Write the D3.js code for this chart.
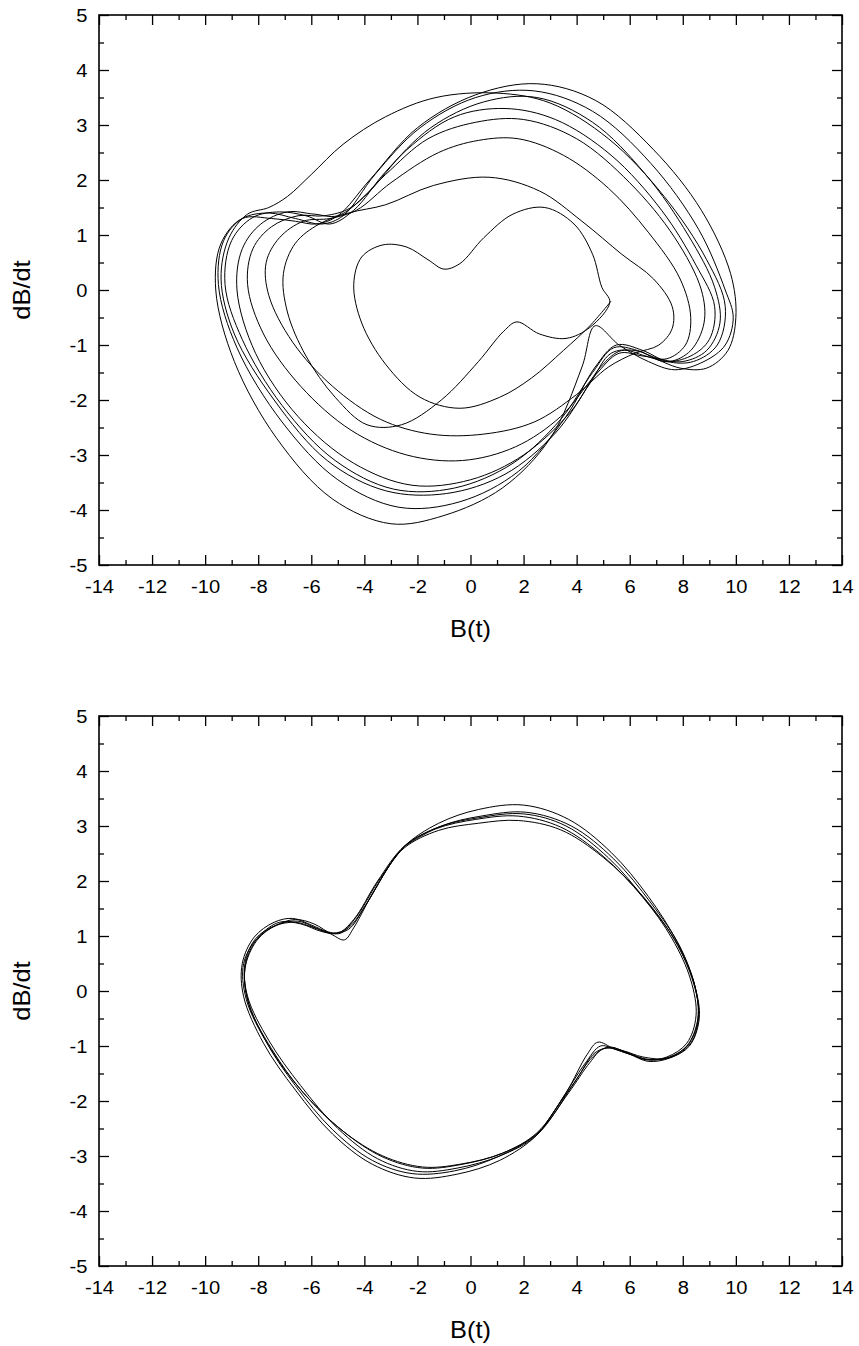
<!DOCTYPE html>
<html>
<head>
<meta charset="utf-8">
<script src="https://cdnjs.cloudflare.com/ajax/libs/d3/7.8.5/d3.min.js"></script>
<style>
	body { margin: 0; background: #fff; }
	svg text { font-family: "Liberation Sans", Arial, sans-serif; fill: #000; }
</style>
</head>
<body>
<div id="chart"></div>
<script>
// axis ticks
var xTicks = [-14, -12, -10, -8, -6, -4, -2, 0, 2, 4, 6, 8, 10, 12, 14];
var xMinorTicks = [-13, -11, -9, -7, -5, -3, -1, 1, 3, 5, 7, 9, 11, 13];
var yTicks = [-5, -4, -3, -2, -1, 0, 1, 2, 3, 4, 5];
var yMinorTicks = [-4.5, -3.5, -2.5, -1.5, -0.5, 0.5, 1.5, 2.5, 3.5, 4.5];

// top panel: transient trajectory, [B, dB/dt]
var topLoop1 = [[5.3,-0.2],[4.5,-0.65],[3.5,-1.1],[2.3,-1.6],[1.1,-1.95],[-0.4,-2.15],[-1.9,-1.95],[-3.2,-1.35],[-4.1,-0.6],[-4.4,0.1],[-4.1,0.6],[-3.3,0.82],[-2.4,0.78],[-1.6,0.55],[-1.0,0.38],[-0.4,0.48],[0.5,0.95],[1.6,1.38],[2.8,1.5],[3.9,1.2],[4.6,0.65],[4.95,0.05]];
var topLoop2 = [[5.25,-0.22],[4.5,-0.68],[3.6,-0.88],[2.6,-0.8],[1.75,-0.58],[1.25,-0.75],[0.3,-1.3],[-1.1,-2.0],[-2.6,-2.45],[-3.9,-2.45],[-5.1,-1.95],[-6.2,-1.2],[-6.9,-0.4],[-7.05,0.3],[-6.6,0.85],[-5.7,1.2],[-4.6,1.4],[-3.2,1.55],[-1.4,1.9],[0.7,2.05],[2.6,1.8],[4.2,1.25],[5.7,0.65],[6.9,0.2],[7.6,-0.3]];
var topLoop3 = [[7.6,-0.7],[7.1,-1.0],[6.2,-1.15],[5.2,-1.4],[4.0,-1.9],[2.4,-2.4],[0.5,-2.62],[-1.5,-2.62],[-3.4,-2.35],[-5.2,-1.75],[-6.7,-0.95],[-7.6,-0.1],[-7.7,0.5],[-7.2,0.95],[-6.3,1.25],[-5.3,1.3],[-4.3,1.45],[-3.0,1.95],[-1.2,2.5],[0.3,2.72],[1.8,2.75],[3.5,2.45],[5.2,1.85],[6.7,1.05],[7.9,0.2],[8.3,-0.5]];
var topLoop4 = [[8.1,-1.0],[7.4,-1.25],[6.5,-1.2],[5.6,-1.15],[4.7,-1.55],[3.4,-2.3],[1.7,-2.85],[-0.3,-3.1],[-2.4,-3.0],[-4.5,-2.55],[-6.4,-1.75],[-7.8,-0.8],[-8.4,0.1],[-8.2,0.75],[-7.5,1.15],[-6.5,1.35],[-5.5,1.35],[-4.5,1.5],[-3.2,2.1],[-1.6,2.75],[0.2,3.05],[2.0,3.1],[4.0,2.75],[6.0,1.95],[7.7,0.95],[8.7,0.0],[8.8,-0.6]];
var topLoop5 = [[8.3,-1.1],[7.5,-1.3],[6.6,-1.2],[5.7,-1.1],[4.9,-1.4],[3.8,-2.2],[2.0,-3.0],[0.0,-3.45],[-2.2,-3.55],[-4.4,-3.15],[-6.5,-2.3],[-8.1,-1.15],[-8.8,0.0],[-8.6,0.75],[-7.9,1.2],[-6.9,1.42],[-5.9,1.38],[-5.0,1.35],[-3.9,1.75],[-2.4,2.55],[-0.6,3.15],[1.3,3.3],[3.2,3.1],[5.3,2.45],[7.2,1.45],[8.5,0.45],[9.2,-0.3]];
var topLoop6 = [[9.0,-0.9],[8.3,-1.2],[7.3,-1.3],[6.3,-1.1],[5.4,-1.05],[4.6,-1.5],[3.4,-2.35],[1.6,-3.15],[-0.6,-3.6],[-2.9,-3.62],[-5.1,-3.1],[-7.1,-2.1],[-8.6,-0.9],[-9.25,0.1],[-9.0,0.9],[-8.2,1.32],[-7.2,1.42],[-6.2,1.35],[-5.3,1.2],[-4.4,1.45],[-3.2,2.15],[-1.5,2.95],[0.5,3.42],[2.5,3.5],[4.6,3.05],[6.6,2.1],[8.2,1.0],[9.2,0.05],[9.4,-0.6]];
var topLoop7 = [[8.9,-1.1],[8.0,-1.3],[7.1,-1.25],[6.2,-1.1],[5.3,-1.15],[4.5,-1.7],[3.2,-2.6],[1.3,-3.35],[-0.9,-3.7],[-3.2,-3.65],[-5.4,-3.1],[-7.4,-2.0],[-8.9,-0.8],[-9.4,0.2],[-9.1,0.95],[-8.4,1.38],[-7.6,1.5],[-6.9,1.7],[-6.0,2.1],[-4.8,2.65],[-3.2,3.15],[-1.3,3.5],[1.0,3.58],[3.0,3.4],[5.2,2.75],[7.3,1.7],[8.9,0.55],[9.6,-0.3]];
var topLoop8 = [[9.3,-1.0],[8.4,-1.3],[7.4,-1.3],[6.5,-1.1],[5.5,-1.0],[4.7,-1.4],[3.6,-2.3],[1.8,-3.3],[-0.4,-3.85],[-2.7,-3.95],[-5.0,-3.45],[-7.1,-2.4],[-8.8,-1.05],[-9.5,0.1],[-9.3,0.9],[-8.6,1.3],[-7.6,1.4],[-6.6,1.3],[-5.6,1.2],[-4.8,1.35],[-3.6,2.1],[-1.9,2.95],[0.2,3.5],[2.4,3.62],[4.6,3.25],[6.8,2.3],[8.6,1.1],[9.6,0.0],[9.9,-0.5]];
var topLoop9 = [[9.6,-1.0],[8.8,-1.3],[7.7,-1.45],[6.7,-1.3],[5.6,-1.0],[4.7,-0.65],[4.2,-1.4],[3.0,-2.7],[1.2,-3.6],[-1.0,-4.1],[-3.0,-4.25],[-5.2,-3.8],[-7.3,-2.7],[-8.9,-1.3],[-9.6,0.0],[-9.4,0.85],[-8.6,1.3],[-7.5,1.3],[-6.6,1.25],[-5.8,1.2],[-5.0,1.35],[-3.8,2.0],[-2.0,2.95],[0.2,3.55],[2.5,3.75],[4.7,3.45],[6.9,2.55],[8.7,1.45],[9.8,0.3],[10.0,-0.5],[9.7,-1.1],[8.9,-1.42],[7.9,-1.42],[7.0,-1.25]];

// bottom panel: settled orbit, [B, dB/dt], each pass starts where the passes cross
var botLoop1 = [[-2.5,2.63],[-1.3,2.95],[0.2,3.12],[1.8,3.18],[3.4,2.98],[5.0,2.45],[6.5,1.7],[7.6,0.95],[8.3,0.2],[8.5,-0.45],[8.15,-0.95],[7.4,-1.2],[6.6,-1.25],[5.9,-1.12],[5.3,-1.03],[4.7,-1.12],[4.0,-1.6],[3.2,-2.15],[2.5,-2.6],[1.2,-2.95],[-0.3,-3.15],[-1.8,-3.22],[-3.3,-3.02],[-4.8,-2.55],[-6.3,-1.85],[-7.5,-1.05],[-8.35,-0.25],[-8.5,0.4],[-8.05,0.92],[-7.3,1.2],[-6.5,1.27],[-5.8,1.14],[-5.2,1.05],[-4.6,1.12],[-4.0,1.52],[-3.2,2.17]];
var botLoop2 = [[-2.5,2.63],[-1.2,3.05],[0.3,3.3],[2.0,3.38],[3.7,3.12],[5.3,2.52],[6.7,1.72],[7.8,0.88],[8.45,0.1],[8.62,-0.5],[8.25,-1.0],[7.5,-1.22],[6.7,-1.28],[6.0,-1.15],[5.4,-1.05],[4.9,-1.0],[4.3,-1.33],[3.4,-2.0],[2.5,-2.62],[1.1,-3.08],[-0.5,-3.33],[-2.1,-3.4],[-3.7,-3.15],[-5.2,-2.6],[-6.6,-1.8],[-7.8,-0.95],[-8.55,-0.1],[-8.6,0.5],[-8.15,0.98],[-7.4,1.25],[-6.7,1.32],[-6.0,1.2],[-5.4,1.08],[-4.9,1.05],[-4.3,1.35],[-3.4,2.05]];
var botLoop3 = [[-2.5,2.6],[-1.2,2.92],[0.3,3.05],[1.8,3.1],[3.4,2.93],[5.0,2.43],[6.5,1.72],[7.7,0.92],[8.4,0.15],[8.6,-0.45],[8.3,-0.95],[7.6,-1.2],[6.8,-1.25],[6.0,-1.15],[5.4,-1.05],[4.8,-0.93],[4.4,-1.15],[3.6,-1.85],[2.5,-2.58],[1.2,-2.95],[-0.4,-3.15],[-1.8,-3.2],[-3.3,-3.0],[-4.8,-2.55],[-6.3,-1.85],[-7.6,-1.0],[-8.45,-0.15],[-8.55,0.5],[-8.05,0.95],[-7.3,1.2],[-6.6,1.3],[-5.9,1.22],[-5.2,1.02],[-4.75,0.93],[-4.4,1.15],[-3.6,1.85]];
var botLoop4 = [[-2.5,2.62],[-1.1,3.0],[0.4,3.18],[2.1,3.25],[3.8,3.0],[5.4,2.4],[6.8,1.6],[7.9,0.8],[8.5,0.0],[8.55,-0.55],[8.15,-1.0],[7.4,-1.22],[6.5,-1.2],[5.7,-1.08],[5.0,-1.05],[4.5,-1.3],[3.7,-1.85],[2.5,-2.6],[1.0,-3.02],[-0.6,-3.27],[-2.2,-3.32],[-3.7,-3.08],[-5.2,-2.52],[-6.6,-1.72],[-7.75,-0.88],[-8.45,-0.05],[-8.45,0.55],[-7.95,1.0],[-7.2,1.25],[-6.4,1.22],[-5.6,1.08],[-5.0,1.05],[-4.4,1.3],[-3.5,2.0]];
var botLoop5 = [[-2.5,2.63],[-1.2,2.98],[0.3,3.15],[2.0,3.22],[3.6,3.0],[5.2,2.42],[6.6,1.65],[7.8,0.85],[8.45,0.1],[8.58,-0.5],[8.2,-0.98],[7.5,-1.2],[6.7,-1.25],[5.9,-1.12],[5.2,-1.02],[4.6,-1.2],[3.8,-1.75],[2.5,-2.62],[1.1,-3.0],[-0.5,-3.22],[-2.0,-3.28],[-3.5,-3.05],[-5.0,-2.5],[-6.4,-1.72],[-7.6,-0.9],[-8.4,-0.1],[-8.5,0.5],[-8.1,0.95],[-7.4,1.18],[-6.6,1.25],[-5.9,1.15],[-5.2,1.05],[-4.6,1.15],[-3.9,1.6],[-3.1,2.25],[-2.5,2.63]];

var topTrace = [].concat(topLoop1, topLoop2, topLoop3, topLoop4, topLoop5, topLoop6, topLoop7, topLoop8, topLoop9);
var botTrace = [].concat(botLoop1, botLoop2, botLoop3, botLoop4, botLoop5);

function PhasePanel(svg, params) {
	this.params = params;
	this.g = svg.append("g")
		.attr("transform", "translate(" + params.left + "," + params.top + ")");
	this.x = d3.scaleLinear().domain([-14, 14]).range([0, params.width]);
	this.y = d3.scaleLinear().domain([-5, 5]).range([params.height, 0]);
}

PhasePanel.prototype.buildAxes = function () {
	var self = this,
		w = this.params.width,
		h = this.params.height,
		fmt = function (d) { return String(d); };   // plain hyphen, not U+2212

	function tidy(sel) {
		sel.select(".domain").remove();
		sel.selectAll("line").attr("stroke", "#000").attr("stroke-width", 1.3);
		sel.selectAll("text")
			.attr("font-size", 19)
			.attr("font-family", "Liberation Sans, Arial, sans-serif")
			.attr("fill", "#000")
			.attr("transform", "scale(1.06,1)");
	}

	// major ticks with labels, bottom and left
	this.g.append("g")
		.attr("transform", "translate(0," + h + ")")
		.call(d3.axisBottom(self.x).tickValues(xTicks).tickFormat(fmt).tickSizeInner(-10).tickSizeOuter(0).tickPadding(15))
		.call(tidy);
	this.g.append("g")
		.call(d3.axisLeft(self.y).tickValues(yTicks).tickFormat(fmt).tickSizeInner(-10).tickSizeOuter(0).tickPadding(11))
		.call(tidy);

	// major ticks, top and right, no labels
	this.g.append("g")
		.call(d3.axisTop(self.x).tickValues(xTicks).tickSizeInner(-10).tickSizeOuter(0).tickFormat(""))
		.call(tidy);
	this.g.append("g")
		.attr("transform", "translate(" + w + ",0)")
		.call(d3.axisRight(self.y).tickValues(yTicks).tickSizeInner(-10).tickSizeOuter(0).tickFormat(""))
		.call(tidy);

	// minor ticks on all four sides
	this.g.append("g")
		.attr("transform", "translate(0," + h + ")")
		.call(d3.axisBottom(self.x).tickValues(xMinorTicks).tickSizeInner(-5).tickSizeOuter(0).tickFormat(""))
		.call(tidy);
	this.g.append("g")
		.call(d3.axisTop(self.x).tickValues(xMinorTicks).tickSizeInner(-5).tickSizeOuter(0).tickFormat(""))
		.call(tidy);
	this.g.append("g")
		.call(d3.axisLeft(self.y).tickValues(yMinorTicks).tickSizeInner(-5).tickSizeOuter(0).tickFormat(""))
		.call(tidy);
	this.g.append("g")
		.attr("transform", "translate(" + w + ",0)")
		.call(d3.axisRight(self.y).tickValues(yMinorTicks).tickSizeInner(-5).tickSizeOuter(0).tickFormat(""))
		.call(tidy);

	this.g.append("rect")
		.attr("x", 0)
		.attr("y", 0)
		.attr("width", w)
		.attr("height", h)
		.attr("fill", "none")
		.attr("stroke", "#000")
		.attr("stroke-width", 1.6);
};

PhasePanel.prototype.buildTrace = function (points) {
	var self = this;

	var line = d3.line()
		.x(function (d) { return self.x(d[0]); })
		.y(function (d) { return self.y(d[1]); })
		.curve(d3.curveCatmullRom.alpha(0.5));

	this.g.append("path")
		.datum(points)
		.attr("d", line)
		.attr("fill", "none")
		.attr("stroke", "#000")
		.attr("stroke-width", 1);
};

PhasePanel.prototype.buildTitles = function () {
	var w = this.params.width,
		h = this.params.height;

	this.g.append("text")
		.attr("transform", "translate(" + (w / 2) + "," + (h + 72) + ") scale(1.06,1)")
		.attr("text-anchor", "middle")
		.attr("font-size", 24)
		.text("B(t)");

	this.g.append("text")
		.attr("transform", "translate(-69," + (h / 2) + ") rotate(-90) scale(1.06,1)")
		.attr("text-anchor", "middle")
		.attr("font-size", 24)
		.text("dB/dt");
};

var svg = d3.select("#chart").append("svg")
	.attr("width", 859)
	.attr("height", 1346);

var topPanel = new PhasePanel(svg, { left: 99, top: 15, width: 743, height: 550 });
topPanel.buildTrace(topTrace);
topPanel.buildAxes();
topPanel.buildTitles();

var botPanel = new PhasePanel(svg, { left: 99, top: 716, width: 743, height: 550 });
botPanel.buildTrace(botTrace);
botPanel.buildAxes();
botPanel.buildTitles();
</script>
</body>
</html>
